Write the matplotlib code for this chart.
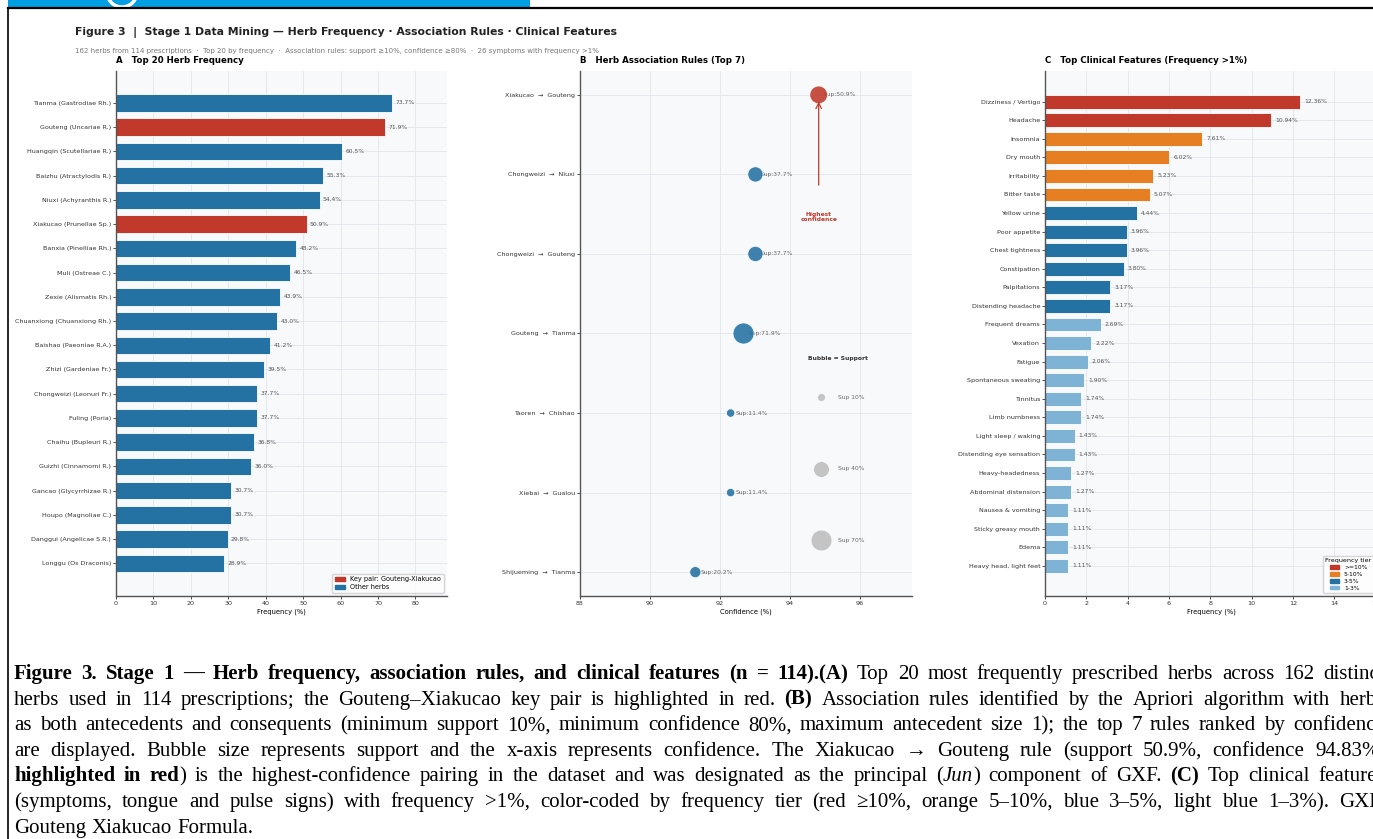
import numpy as np
import matplotlib.pyplot as plt
from matplotlib.patches import Patch, Rectangle, Arc
from matplotlib.lines import Line2D
from matplotlib.font_manager import FontProperties

W, H, DPI = 1373, 839, 100

# ---- Panel A: top 20 herbs ----
herbs = ["Tianma (Gastrodiae Rh.)", "Gouteng (Uncariae R.)", "Huangqin (Scutellariae R.)",
         "Baizhu (Atractylodis R.)", "Niuxi (Achyranthis R.)", "Xiakucao (Prunellae Sp.)",
         "Banxia (Pinelliae Rh.)", "Muli (Ostreae C.)", "Zexie (Alismatis Rh.)",
         "Chuanxiong (Chuanxiong Rh.)", "Baishao (Paeoniae R.A.)", "Zhizi (Gardeniae Fr.)",
         "Chongweizi (Leonuri Fr.)", "Fuling (Poria)", "Chaihu (Bupleuri R.)",
         "Guizhi (Cinnamomi R.)", "Gancao (Glycyrrhizae R.)", "Houpo (Magnoliae C.)",
         "Danggui (Angelicae S.R.)", "Longgu (Os Draconis)"]
herb_freq = [73.7, 71.9, 60.5, 55.3, 54.4, 50.9, 48.2, 46.5, 43.9, 43.0,
             41.2, 39.5, 37.7, 37.7, 36.8, 36.0, 30.7, 30.7, 29.8, 28.9]
key_pair = ["Gouteng (Uncariae R.)", "Xiakucao (Prunellae Sp.)"]

# ---- Panel B: association rules ----
rules = ["Xiakucao  →  Gouteng", "Chongweizi  →  Niuxi", "Chongweizi  →  Gouteng",
         "Gouteng  →  Tianma", "Taoren  →  Chishao", "Xiebai  →  Gualou",
         "Shijueming  →  Tianma"]
rule_conf = [94.83, 93.02, 93.02, 92.68, 92.31, 92.31, 91.30]
rule_sup = [50.9, 37.7, 37.7, 71.9, 11.4, 11.4, 20.2]
ref_sup = [10, 40, 70]

# ---- Panel C: clinical features ----
symptoms = ["Dizziness / Vertigo", "Headache", "Insomnia", "Dry mouth", "Irritability",
            "Bitter taste", "Yellow urine", "Poor appetite", "Chest tightness",
            "Constipation", "Palpitations", "Distending headache", "Frequent dreams",
            "Vexation", "Fatigue", "Spontaneous sweating", "Tinnitus", "Limb numbness",
            "Light sleep / waking", "Distending eye sensation", "Heavy-headedness",
            "Abdominal distension", "Nausea & vomiting", "Sticky greasy mouth", "Edema",
            "Heavy head, light feet"]
symptom_freq = [12.36, 10.94, 7.61, 6.02, 5.23, 5.07, 4.44, 3.96, 3.96, 3.80, 3.17, 3.17,
                2.69, 2.22, 2.06, 1.90, 1.74, 1.74, 1.43, 1.43, 1.27, 1.27, 1.11, 1.11,
                1.11, 1.11]
tier_labels = [">=10%", "5-10%", "3-5%", "1-3%"]
tier_cuts = [10, 5, 3, 0]

RED = "#c0392b"
ORANGE = "#e67e22"
BLUE = "#2471a3"
LIGHT = "#7fb3d5"
tier_colors = [RED, ORANGE, BLUE, LIGHT]

TICK = 4.6
SMALL = 4.3


def box(l, t, r, b):
    return [l / W, 1 - b / H, (r - l) / W, (b - t) / H]


def style(ax):
    ax.set_facecolor("#f8f9fb")
    for s in ["top", "right"]:
        ax.spines[s].set_visible(False)
    for s in ["left", "bottom"]:
        ax.spines[s].set_color("#555555")
        ax.spines[s].set_linewidth(1.0)
    ax.grid(True, color="#e1e5ea", linewidth=0.6)
    ax.set_axisbelow(True)
    ax.tick_params(labelsize=TICK, length=2, width=0.6, colors="#333333", pad=1.5)


fig = plt.figure(figsize=(W / DPI, H / DPI), dpi=DPI)
fig.patch.set_facecolor("white")

# page decoration: banner and frame lines
fig.add_artist(Rectangle((8 / W, 1 - 7 / H), (530 - 8) / W, 7 / H,
                         transform=fig.transFigure, color="#009fe3", lw=0))
fig.add_artist(Arc((122 / W, 1 + 8 / H), 30 / W, 30 / H, theta1=200, theta2=340,
                   transform=fig.transFigure, color="white", lw=2.5))
fig.add_artist(Line2D([8 / W, 1], [1 - 7.5 / H] * 2, transform=fig.transFigure,
                      color="black", lw=1.6))
fig.add_artist(Line2D([8 / W] * 2, [0, 1 - 7.5 / H], transform=fig.transFigure,
                      color="black", lw=1.2))

fig.text(75 / W, 1 - 32 / H,
         "Figure 3  |  Stage 1 Data Mining — Herb Frequency · Association Rules · Clinical Features",
         fontsize=7.8, fontweight="bold", va="center", color="#222222")
fig.text(75 / W, 1 - 51 / H,
         "162 herbs from 114 prescriptions  ·  Top 20 by frequency  ·  Association rules: "
         "support ≥10%, confidence ≥80%  ·  26 symptoms with frequency >1%",
         fontsize=5.0, va="center", color="#777777")

# ---- A ----
axA = fig.add_axes(box(116, 71, 447, 596))
style(axA)
yA = np.arange(len(herbs))
colA = [RED if h in key_pair else BLUE for h in herbs]
axA.barh(yA, herb_freq, height=0.72, color=colA, edgecolor="white", linewidth=0.6)
for yi, v in zip(yA, herb_freq):
    axA.text(v + 0.9, yi, f"{v:.1f}%", va="center", fontsize=SMALL, color="#555555")
axA.set_yticks(yA, herbs)
axA.set_ylim(len(herbs) - 1 + 1.35, -1.32)
axA.set_xlim(0, max(herb_freq) * 1.2)
axA.set_xticks(np.arange(0, 81, 10))
axA.set_xlabel("Frequency (%)", fontsize=TICK + 0.3, labelpad=2)
axA.set_title("A   Top 20 Herb Frequency", loc="left", fontsize=6.2, fontweight="bold", pad=6)
axA.legend(handles=[Patch(color=RED, label="Key pair: Gouteng-Xiakucao"),
                    Patch(color=BLUE, label="Other herbs")],
           loc="lower right", fontsize=4.7, frameon=True, edgecolor="#cccccc",
           handlelength=1.6, handleheight=0.6, borderpad=0.4, labelspacing=0.3)

# ---- B ----
axB = fig.add_axes(box(580, 71, 912, 596))
style(axB)
yB = np.arange(len(rules))
colB = [RED if i == 0 else BLUE for i in range(len(rules))]
axB.scatter(rule_conf, yB, s=np.array(rule_sup) * 3.2, c=colB, alpha=0.88,
            edgecolors="white", linewidths=0.6, zorder=3)
for yi, c, s in zip(yB, rule_conf, rule_sup):
    axB.text(c + 0.15, yi, f"Sup:{s}%", va="center", fontsize=SMALL, color="#666666", zorder=2)
axB.set_yticks(yB, rules)
axB.set_ylim(len(rules) - 1 + 0.3, -0.3)
axB.set_xlim(88, 97.5)
axB.set_xticks(np.arange(88, 97, 2))
axB.set_xlabel("Confidence (%)", fontsize=TICK + 0.3, labelpad=2)
axB.set_title("B   Herb Association Rules (Top 7)", loc="left", fontsize=6.2,
              fontweight="bold", pad=6)

# size key
for s, yy in zip(ref_sup, [3.8, 4.7, 5.6]):
    axB.scatter(94.9, yy, s=s * 3.2, c="#bbbbbb", alpha=0.85, edgecolors="white",
                linewidths=0.5, zorder=3)
    axB.text(95.37, yy, f"Sup {s}%", va="center", fontsize=SMALL, color="#666666")
axB.text(95.37, 3.32, "Bubble = Support", ha="center", va="center", fontsize=SMALL,
         fontweight="bold", color="#333333")

axB.annotate("", xy=(rule_conf[0], 0.05), xytext=(rule_conf[0], 1.17),
             arrowprops=dict(arrowstyle="->", color=RED, lw=0.9))
axB.text(rule_conf[0], 1.54, "Highest\nconfidence", ha="center", va="center",
         fontsize=SMALL, fontweight="bold", color=RED, linespacing=1.0)

# ---- C ----
axC = fig.add_axes(box(1045, 71, 1377, 596))
style(axC)
yC = np.arange(len(symptoms))


def tier_of(v):
    for i, cut in enumerate(tier_cuts):
        if v >= cut:
            return i
    return len(tier_cuts) - 1


colC = [tier_colors[tier_of(v)] for v in symptom_freq]
axC.barh(yC, symptom_freq, height=0.75, color=colC, edgecolor="white", linewidth=0.6)
for yi, v in zip(yC, symptom_freq):
    axC.text(v + 0.2, yi, f"{v:.2f}%", va="center", fontsize=SMALL, color="#555555")
axC.set_yticks(yC, symptoms)
axC.set_ylim(len(symptoms) - 1 + 1.62, -1.65)
axC.set_xlim(0, max(symptom_freq) * 1.3)
axC.set_xticks(np.arange(0, 17, 2))
axC.set_xlabel("Frequency (%)", fontsize=TICK + 0.3, labelpad=2)
axC.set_title("C   Top Clinical Features (Frequency >1%)", loc="left", fontsize=6.2,
              fontweight="bold", pad=6)
axC.legend(handles=[Patch(color=c, label=l) for c, l in zip(tier_colors, tier_labels)],
           title="Frequency tier", loc="lower right", fontsize=SMALL, title_fontsize=SMALL + 0.3,
           frameon=True, edgecolor="#cccccc", handlelength=1.6, handleheight=0.6,
           borderpad=0.4, labelspacing=0.3)

# ---- caption: justified lines, mixed weights laid out word by word ----
CAP = 15
CAP_LEFT, CAP_RIGHT = 14, 1385
renderer = fig.canvas.get_renderer()


def cap_font(kind):
    return FontProperties(family="Liberation Serif", size=CAP,
                          weight="bold" if kind == "b" else "normal",
                          style="italic" if kind == "i" else "normal")


def run_width(text, prop):
    w1, _, _ = renderer.get_text_width_height_descent("x" + text + "x", prop, ismath=False)
    w0, _, _ = renderer.get_text_width_height_descent("xx", prop, ismath=False)
    return w1 - w0


def tokens(runs):
    out = []
    for text, kind in runs:
        word = ""
        for ch in text:
            if ch == " ":
                if word:
                    out.append((word, kind))
                    word = ""
                out.append((" ", kind))
            else:
                word += ch
        if word:
            out.append((word, kind))
    return out


def draw_line(y, runs, justify):
    toks = tokens(runs)
    widths = [run_width(t, cap_font(k)) for t, k in toks]
    n_space = sum(1 for t, _ in toks if t == " ")
    extra = 0
    if justify and n_space:
        extra = (CAP_RIGHT - CAP_LEFT - sum(widths)) / n_space
    x = CAP_LEFT
    for (t, k), w in zip(toks, widths):
        if t == " ":
            x += w + extra
            continue
        fig.text(x / W, 1 - y / H, t, fontproperties=cap_font(k), va="baseline", color="black")
        x += w


caption = [
    [("Figure 3. Stage 1 — Herb frequency, association rules, and clinical features (n = 114).(A)", "b"),
     (" Top 20 most frequently prescribed herbs across 162 distinct", "n")],
    [("herbs used in 114 prescriptions; the Gouteng–Xiakucao key pair is highlighted in red. ", "n"),
     ("(B)", "b"), (" Association rules identified by the Apriori algorithm with herbs", "n")],
    [("as both antecedents and consequents (minimum support 10%, minimum confidence 80%, "
      "maximum antecedent size 1); the top 7 rules ranked by confidence", "n")],
    [("are displayed. Bubble size represents support and the x-axis represents confidence. "
      "The Xiakucao → Gouteng rule (support 50.9%, confidence 94.83%,", "n")],
    [("highlighted in red", "b"),
     (") is the highest-confidence pairing in the dataset and was designated as the principal (", "n"),
     ("Jun", "i"), (") component of GXF. ", "n"), ("(C)", "b"), (" Top clinical features", "n")],
    [("(symptoms, tongue and pulse signs) with frequency >1%, color-coded by frequency tier "
      "(red ≥10%, orange 5–10%, blue 3–5%, light blue 1–3%). GXF,", "n")],
    [("Gouteng Xiakucao Formula.", "n")],
]
for i, runs in enumerate(caption):
    draw_line(679 + i * 25.6, runs, justify=i < len(caption) - 1)

fig.savefig("out.png", dpi=DPI)
